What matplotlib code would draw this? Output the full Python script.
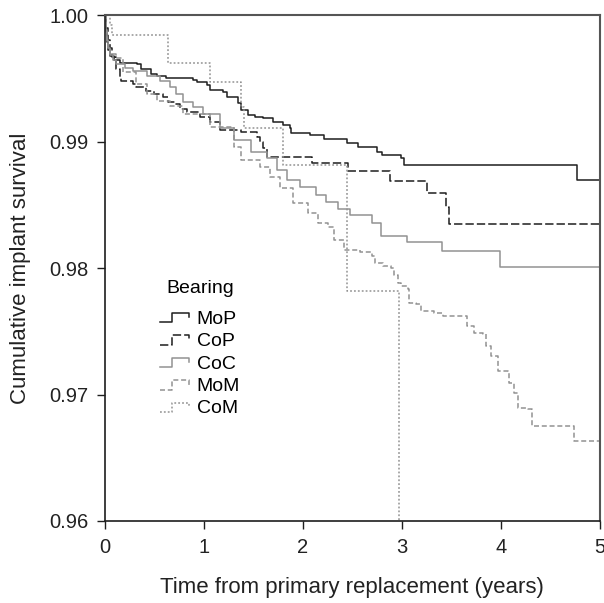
import matplotlib
matplotlib.use("Agg")
import matplotlib.pyplot as plt
from matplotlib.lines import Line2D
from matplotlib.legend_handler import HandlerBase

plt.rcParams['font.family'] = ['Liberation Sans', 'DejaVu Sans']
plt.rcParams['lines.scale_dashes'] = False

# Kaplan-Meier steps (time in years, survival after the step)
mop_t = [0, 0.01, 0.02, 0.03, 0.05, 0.09, 0.15, 0.32, 0.36, 0.46, 0.52, 0.62, 0.89, 0.93,
         1.03, 1.06, 1.19, 1.23, 1.34, 1.37, 1.44, 1.52, 1.60, 1.70, 1.80, 1.87, 1.88,
         2.07, 2.21, 2.45, 2.56, 2.75, 2.80, 2.99, 3.02, 4.77, 5.0]
mop_s = [1.0, 0.99881, 0.99786, 0.99723, 0.99675, 0.99644, 0.99620, 0.99612, 0.99572,
         0.99533, 0.99517, 0.99501, 0.99485, 0.99469, 0.99446, 0.99406, 0.99390, 0.99350,
         0.99303, 0.99248, 0.99208, 0.99192, 0.99184, 0.99152, 0.99129, 0.99105, 0.99065,
         0.99050, 0.99018, 0.98986, 0.98954, 0.98915, 0.98891, 0.98867, 0.98812, 0.98693,
         0.98693]

cop_t = [0, 0.01, 0.03, 0.05, 0.07, 0.11, 0.15, 0.16, 0.28, 0.31, 0.41, 0.49, 0.59, 0.64,
         0.71, 0.76, 0.83, 0.96, 1.06, 1.16, 1.37, 1.54, 1.57, 1.60, 1.64, 2.09, 2.46,
         2.88, 3.25, 3.45, 3.48, 5.0]
cop_s = [1.0, 0.99897, 0.99802, 0.99739, 0.99667, 0.99572, 0.99509, 0.99477, 0.99453,
         0.99430, 0.99398, 0.99374, 0.99350, 0.99311, 0.99295, 0.99255, 0.99232, 0.99192,
         0.99152, 0.99089, 0.99073, 0.99034, 0.98994, 0.98947, 0.98875, 0.98828, 0.98764,
         0.98685, 0.98590, 0.98479, 0.98352, 0.98352]

coc_t = [0, 0.01, 0.02, 0.03, 0.05, 0.08, 0.11, 0.20, 0.28, 0.42, 0.56, 0.66, 0.72, 0.79,
         0.89, 0.99, 1.16, 1.30, 1.47, 1.64, 1.74, 1.84, 1.97, 2.13, 2.23, 2.35, 2.48,
         2.70, 2.79, 3.05, 3.41, 3.99, 5.0]
coc_s = [1.0, 0.99881, 0.99802, 0.99739, 0.99683, 0.99644, 0.99612, 0.99580, 0.99556,
         0.99517, 0.99477, 0.99430, 0.99374, 0.99311, 0.99271, 0.99216, 0.99105, 0.99010,
         0.98915, 0.98867, 0.98772, 0.98693, 0.98638, 0.98574, 0.98519, 0.98463, 0.98416,
         0.98353, 0.98257, 0.98202, 0.98131, 0.98012, 0.98012]

mom_t = [0, 0.01, 0.02, 0.03, 0.05, 0.11, 0.18, 0.31, 0.42, 0.52, 0.66, 0.79, 1.06, 1.30,
         1.37, 1.57, 1.67, 1.77, 1.90, 2.05, 2.15, 2.25, 2.31, 2.41, 2.58, 2.70, 2.73,
         2.81, 2.89, 2.92, 2.96, 2.99, 3.06, 3.07, 3.14, 3.19, 3.32, 3.42, 3.66, 3.73,
         3.82, 3.85, 3.90, 3.97, 4.07, 4.08, 4.13, 4.17, 4.27, 4.32, 4.74, 5.0]
mom_s = [1.0, 0.99865, 0.99786, 0.99723, 0.99691, 0.99659, 0.99549, 0.99453, 0.99374,
         0.99319, 0.99279, 0.99216, 0.99113, 0.98954, 0.98851, 0.98796, 0.98717, 0.98630,
         0.98511, 0.98432, 0.98353, 0.98321, 0.98218, 0.98139, 0.98123, 0.98099, 0.98036,
         0.98020, 0.98004, 0.97941, 0.97885, 0.97861, 0.97838, 0.97727, 0.97719, 0.97663,
         0.97648, 0.97624, 0.97545, 0.97489, 0.97481, 0.97386, 0.97307, 0.97188, 0.97172,
         0.97093, 0.97014, 0.96895, 0.96887, 0.96752, 0.96634, 0.96634]

com_t = [0, 0.05, 0.07, 0.64, 1.06, 1.37, 1.40, 1.80, 2.45, 2.97]
com_s = [1.0, 0.99921, 0.99842, 0.99620, 0.99469, 0.99271, 0.99105, 0.98812, 0.97822, 0.95]

dark = '#1e1e1e'
grey = '#929292'


class StepHandler(HandlerBase):
    # little step-shaped legend key
    def create_artists(self, legend, orig_handle, xdescent, ydescent, width, height,
                       fontsize, trans):
        x0, y0 = -xdescent, -ydescent
        xs = [x0, x0 + 0.42 * width, x0 + 0.42 * width, x0 + width, x0 + width]
        ys = [y0 + 0.1 * height, y0 + 0.1 * height, y0 + 0.8 * height,
              y0 + 0.8 * height, y0 + 0.45 * height]
        ln = Line2D(xs, ys)
        ln.update_from(orig_handle)
        ln.set_transform(trans)
        return [ln]


fig = plt.figure(figsize=(6.04, 6.03), dpi=100)
ax = fig.add_axes([0.174, 0.136, 0.819, 0.839])

lw = 1.1
h1, = ax.step(mop_t, mop_s, where='post', color=dark, lw=lw, label='MoP')
h2, = ax.step(cop_t, cop_s, where='post', color=dark, lw=lw, dashes=(6, 2.2), label='CoP')
h3, = ax.step(coc_t, coc_s, where='post', color=grey, lw=lw, label='CoC')
h4, = ax.step(mom_t, mom_s, where='post', color=grey, lw=lw, dashes=(3.6, 2), label='MoM')
h5, = ax.step(com_t, com_s, where='post', color=grey, lw=lw, dashes=(1.3, 1.5), label='CoM')

ax.set_xlim(0, 5)
ax.set_ylim(0.96, 1.00)
ax.set_xticks([0, 1, 2, 3, 4, 5])
ax.set_yticks([0.96, 0.97, 0.98, 0.99, 1.00])
ax.set_yticklabels(['0.96', '0.97', '0.98', '0.99', '1.00'])
ax.tick_params(direction='out', length=6, width=1, labelsize=14.5, pad=6, color=dark,
               labelcolor='#222222')
for s in ['left', 'bottom']:
    ax.spines[s].set_color(dark)
    ax.spines[s].set_linewidth(1.2)
for s in ['top', 'right']:
    ax.spines[s].set_color('#555555')
    ax.spines[s].set_linewidth(1.5)

ax.set_xlabel('Time from primary replacement (years)', fontsize=16, labelpad=15,
              color='#222222')
ax.set_ylabel('Cumulative implant survival', fontsize=16, labelpad=13, color='#222222')

leg = ax.legend(handles=[h1, h2, h3, h4, h5], title='Bearing', loc='upper left',
                bbox_to_anchor=(0.075, 0.51), frameon=False, fontsize=14,
                title_fontsize=14, handlelength=1.5, handletextpad=0.4,
                labelspacing=0.25, handler_map={Line2D: StepHandler()})
leg._legend_box.align = 'center'
leg._legend_box.sep = 9

fig.savefig('out.png', dpi=100)
